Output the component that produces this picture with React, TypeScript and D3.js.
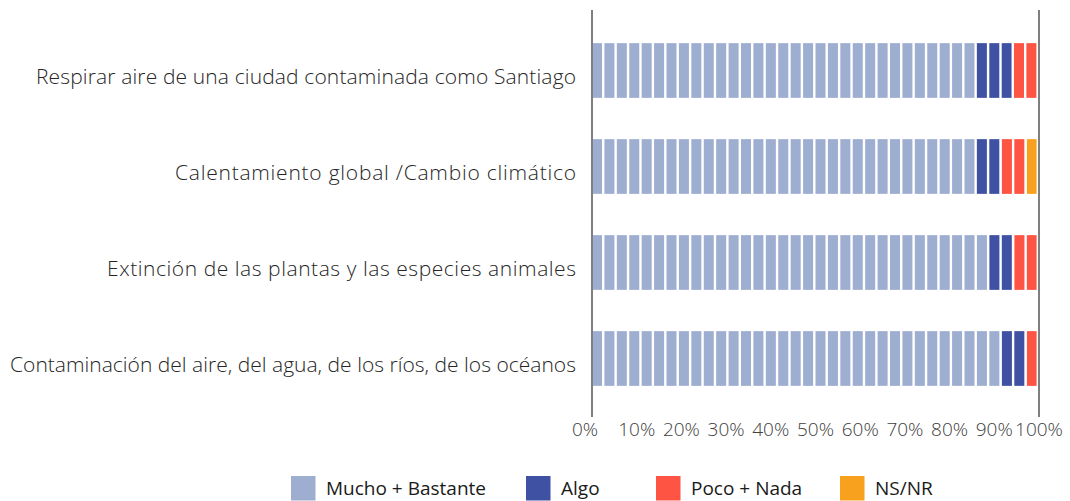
import React from "react";
import * as d3 from "d3";

const categories = [
  "Respirar aire de una ciudad contaminada como Santiago",
  "Calentamiento global /Cambio climático",
  "Extinción de las plantas y las especies animales",
  "Contaminación del aire, del agua, de los ríos, de los océanos",
];
const seriesNames = ["Mucho + Bastante", "Algo", "Poco + Nada", "NS/NR"];
const muchoBastante = [86.1, 86.1, 88.9, 91.7];
const algo = [8.3, 5.6, 5.6, 5.6];
const pocoNada = [5.6, 5.6, 5.5, 2.7];
const nsnr = [0, 2.7, 0, 0];
const seriesColors = ["#9eaed1", "#3f51a3", "#fd5444", "#f8a11f"];
const tickValues = [0, 10, 20, 30, 40, 50, 60, 70, 80, 90, 100];
const legendX = [291, 526, 656, 840];
const labelWidths = [540, 401, 469, 566];

const W = 1070;
const H = 501;
const UNIT = 100 / 36;
const GAP = 2.4;

export default function App() {
  const x = d3.scaleLinear().domain([0, 100]).range([592, 1039]);
  const y = d3
    .scaleBand<string>()
    .domain(categories)
    .range([22.5, 406.5])
    .paddingInner(0.43)
    .paddingOuter(0.215);

  const rows = categories.map((c, i) => {
    const vals = [muchoBastante[i], algo[i], pocoNada[i], nsnr[i]];
    const stack: { s: number; v0: number; v1: number }[] = [];
    let acc = 0;
    vals.forEach((v, s) => {
      stack.push({ s, v0: acc, v1: acc + v });
      acc += v;
    });
    return { c, stack };
  });

  const blocks: JSX.Element[] = [];
  rows.forEach((r) => {
    const y0 = y(r.c)!;
    const bh = y.bandwidth();
    r.stack.forEach((seg) => {
      for (let k = 0; seg.v0 + k * UNIT < seg.v1 - UNIT * 0.3; k++) {
        const a = seg.v0 + k * UNIT;
        const b = Math.min(a + UNIT, seg.v1);
        const xa = x(a);
        const w = x(b) - xa - GAP;
        blocks.push(
          <rect
            key={`${r.c}-${seg.s}-${k}`}
            x={xa}
            y={y0}
            width={Math.max(0, w)}
            height={bh}
            fill={seriesColors[seg.s]}
          />
        );
      }
    });
  });

  return (
    <svg
      width={W}
      height={H}
      style={{ position: "absolute", left: 0, top: 0, background: "#fff" }}
      fontFamily="'Open Sans', 'Noto Sans', sans-serif"
    >
      {blocks}
      {[0, 100].map((v) => (
        <line
          key={v}
          x1={x(v)}
          x2={x(v)}
          y1={10}
          y2={417}
          stroke="#7f7f7f"
          strokeWidth={2}
        />
      ))}
      {categories.map((c, i) => (
        <text
          key={c}
          x={576}
          y={y(c)! + y.bandwidth() / 2 + 13.5}
          textAnchor="end"
          fontSize={21}
          fontWeight={300}
          fill="#262626"
          textLength={labelWidths[i]}
          lengthAdjust="spacing"
        >
          {c}
        </text>
      ))}
      {tickValues.map((t) => (
        <text
          key={t}
          x={x(t) + (t === 0 ? -7 : 0)}
          y={436}
          textAnchor="middle"
          fontSize={19}
          fontWeight={300}
          fill="#404040"
        >
          {t}%
        </text>
      ))}
      {seriesNames.map((n, i) => (
        <g key={n}>
          <rect x={legendX[i]} y={476} width={24.5} height={24.5} fill={seriesColors[i]} />
          <text x={legendX[i] + 35} y={495} fontSize={19} fill="#1a1a1a">
            {n}
          </text>
        </g>
      ))}
    </svg>
  );
}
